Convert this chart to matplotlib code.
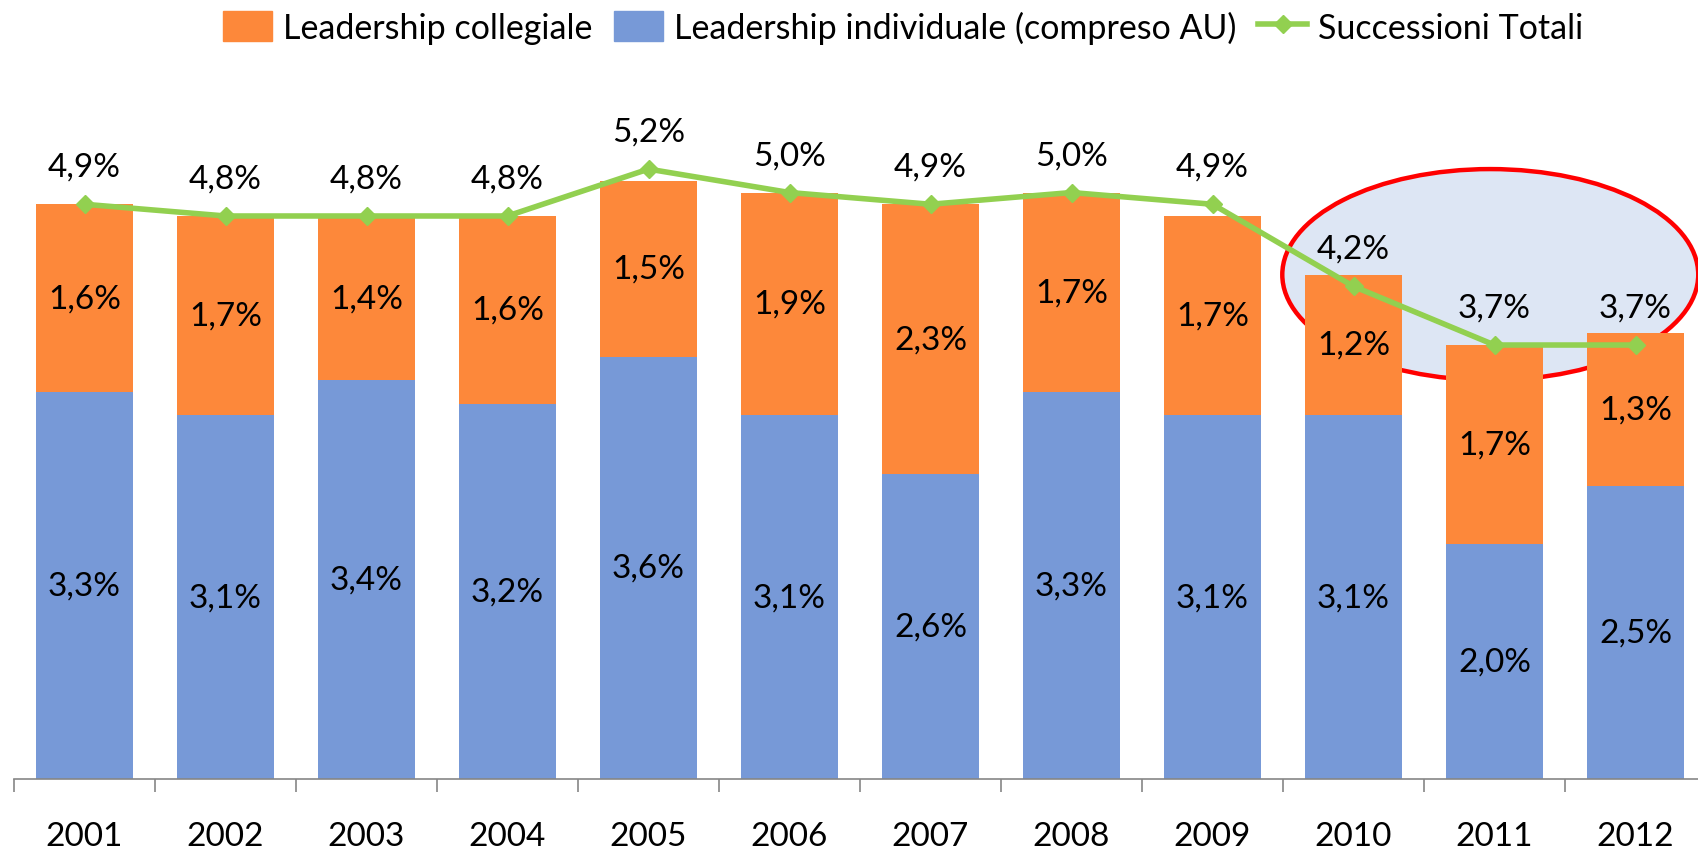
import matplotlib.pyplot as plt
from matplotlib.patches import Ellipse, Patch
from matplotlib.lines import Line2D

plt.rcParams['font.family'] = ['Lato', 'DejaVu Sans']

anni = ['2001', '2002', '2003', '2004', '2005', '2006', '2007', '2008', '2009', '2010', '2011', '2012']
individuale = [3.3, 3.1, 3.4, 3.2, 3.6, 3.1, 2.6, 3.3, 3.1, 3.1, 2.0, 2.5]
collegiale = [1.6, 1.7, 1.4, 1.6, 1.5, 1.9, 2.3, 1.7, 1.7, 1.2, 1.7, 1.3]
totali = [4.9, 4.8, 4.8, 4.8, 5.2, 5.0, 4.9, 5.0, 4.9, 4.2, 3.7, 3.7]

arancio = '#FD883A'
blu = '#7799D7'
verde = '#92D050'


def pct(v):
    return f'{v:.1f}%'.replace('.', ',')


fig = plt.figure(figsize=(16.98, 8.54), dpi=100)
ax = fig.add_axes([14 / 1698, 74 / 854, 1692 / 1698, 780 / 854])

x = list(range(len(anni)))

# ellisse di evidenza dietro le barre
ell = Ellipse((9.97, 4.3), 2.95, 1.8, facecolor='#DDE6F4', edgecolor='#FF0000',
              linewidth=3.2, zorder=1, clip_on=False)
ax.add_patch(ell)

ax.bar(x, individuale, width=0.685, color=blu, zorder=2)
ax.bar(x, collegiale, width=0.685, bottom=individuale, color=arancio, zorder=2)
ax.plot(x, totali, color=verde, linewidth=4, marker='D', markersize=9.5, zorder=3)

for i in x:
    ax.text(i, individuale[i] / 2, pct(individuale[i]), ha='center', va='center', fontsize=24, zorder=4)
    ax.text(i, individuale[i] + collegiale[i] / 2, pct(collegiale[i]), ha='center', va='center',
            fontsize=24, zorder=4)
    ax.annotate(pct(totali[i]), (i, totali[i]), xytext=(0, 27), textcoords='offset points',
                ha='center', va='center', fontsize=24, zorder=4)

ax.set_xlim(-0.5, 11.5)
ax.set_ylim(0, 6.65)
ax.set_xticks(x)
ax.set_xticklabels(anni, fontsize=24)
ax.set_xticks([i - 0.5 for i in range(13)], minor=True)
ax.tick_params(axis='x', which='major', length=0, pad=30)
ax.tick_params(axis='x', which='minor', length=9, width=1.2, color='#868686')
ax.set_yticks([])
for s in ['top', 'right', 'left']:
    ax.spines[s].set_visible(False)
ax.spines['bottom'].set_color('#868686')
ax.spines['bottom'].set_linewidth(1.2)

handles = [Patch(color=arancio), Patch(color=blu),
           Line2D([], [], color=verde, linewidth=4, marker='D', markersize=9)]
labels = ['Leadership collegiale', 'Leadership individuale (compreso AU)', 'Successioni Totali']
fig.legend(handles, labels, loc='center', bbox_to_anchor=(903 / 1698, 1 - 28 / 854), ncol=3,
           frameon=False, fontsize=24.5, handlelength=1.45, handleheight=0.95, handletextpad=0.3,
           columnspacing=0.65)

fig.savefig('out.png', dpi=100)
